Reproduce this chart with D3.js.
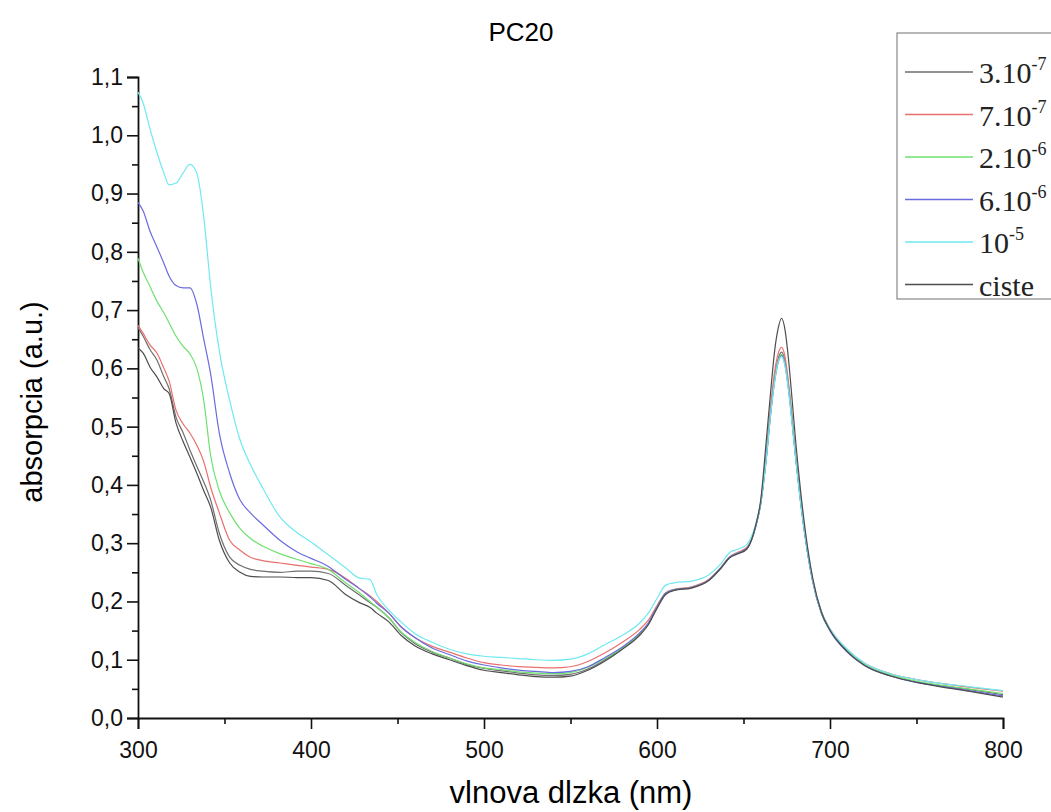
<!DOCTYPE html>
<html>
<head>
<meta charset="utf-8">
<script src="https://cdn.jsdelivr.net/npm/d3@7"></script>
<style>
  body { margin: 0; background: #fff; }
  .tick text { font-family: Arial, "Liberation Sans", sans-serif; font-size: 23px; fill: #111; }
</style>
</head>
<body>
<div id="chart"></div>
<script>
var width = 1051;
var height = 812;
var margin = {top: 77, left: 138, right: 48, bottom: 94};

// wavelengths (nm), shared by every series
var wavelengths = [300,303,307,311,315,318,322,326,330,334,338,342,347,353,359,365,372,382,392,400,
  410,420,428,434,438,445,452,460,470,480,490,500,510,520,530,540,550,560,570,580,
  590,595,600,605,610,620,630,637,642,647,652,657,660,663,666,668,670,672,674,676,
  678,680,683,686,690,695,700,710,720,735,750,765,780,800];

var s3e7 = [0.670,0.655,0.632,0.614,0.585,0.565,0.516,0.490,0.460,0.432,0.405,0.374,0.317,0.276,0.262,0.255,0.252,0.250,0.252,0.252,
  0.248,0.228,0.211,0.198,0.190,0.172,0.147,0.128,0.113,0.103,0.092,0.085,0.081,0.077,0.074,0.073,0.075,0.084,0.100,0.120,
  0.145,0.162,0.190,0.214,0.220,0.224,0.237,0.258,0.276,0.283,0.291,0.328,0.370,0.444,0.536,0.585,0.616,0.628,0.612,0.570,
  0.515,0.453,0.373,0.305,0.235,0.180,0.150,0.114,0.091,0.073,0.062,0.055,0.049,0.040];

var s7e7 = [0.674,0.660,0.640,0.626,0.600,0.578,0.528,0.505,0.489,0.468,0.440,0.396,0.352,0.305,0.288,0.276,0.270,0.266,0.262,0.259,
  0.255,0.240,0.222,0.210,0.200,0.180,0.156,0.138,0.123,0.113,0.103,0.095,0.091,0.088,0.087,0.086,0.088,0.097,0.112,0.130,
  0.152,0.168,0.193,0.215,0.221,0.225,0.238,0.259,0.277,0.285,0.293,0.330,0.372,0.450,0.545,0.595,0.625,0.636,0.620,0.576,
  0.520,0.456,0.376,0.308,0.238,0.183,0.153,0.117,0.094,0.076,0.066,0.059,0.053,0.046];

var s2e6 = [0.789,0.765,0.740,0.715,0.695,0.678,0.655,0.638,0.625,0.600,0.545,0.450,0.390,0.352,0.325,0.308,0.295,0.282,0.272,0.265,
  0.255,0.232,0.215,0.200,0.190,0.172,0.148,0.130,0.114,0.103,0.093,0.086,0.083,0.079,0.077,0.076,0.078,0.087,0.102,0.120,
  0.145,0.162,0.190,0.214,0.220,0.224,0.237,0.258,0.276,0.283,0.291,0.328,0.368,0.440,0.532,0.580,0.612,0.624,0.608,0.567,
  0.512,0.452,0.372,0.305,0.236,0.181,0.151,0.115,0.092,0.074,0.063,0.056,0.050,0.042];

var s6e6 = [0.885,0.870,0.835,0.808,0.780,0.758,0.742,0.738,0.738,0.710,0.650,0.590,0.489,0.420,0.374,0.352,0.332,0.305,0.285,0.274,
  0.260,0.238,0.222,0.208,0.197,0.180,0.157,0.138,0.120,0.109,0.098,0.091,0.086,0.082,0.080,0.078,0.080,0.088,0.104,0.122,
  0.146,0.163,0.190,0.214,0.220,0.224,0.237,0.258,0.276,0.283,0.291,0.328,0.368,0.440,0.530,0.578,0.610,0.622,0.606,0.565,
  0.510,0.450,0.370,0.303,0.234,0.180,0.150,0.113,0.090,0.072,0.061,0.054,0.047,0.038];

var s1e5 = [1.074,1.055,1.010,0.970,0.935,0.915,0.918,0.935,0.950,0.935,0.860,0.740,0.630,0.545,0.477,0.435,0.395,0.345,0.318,0.302,
  0.280,0.258,0.240,0.238,0.212,0.185,0.165,0.145,0.130,0.118,0.110,0.106,0.104,0.102,0.100,0.099,0.101,0.110,0.126,0.142,
  0.163,0.180,0.205,0.228,0.232,0.235,0.246,0.265,0.284,0.290,0.298,0.332,0.370,0.440,0.530,0.578,0.610,0.620,0.604,0.563,
  0.508,0.450,0.370,0.305,0.236,0.182,0.153,0.118,0.094,0.076,0.066,0.059,0.054,0.047];

var ciste = [0.635,0.626,0.602,0.585,0.565,0.557,0.506,0.475,0.448,0.420,0.390,0.362,0.305,0.266,0.250,0.243,0.242,0.242,0.241,0.241,
  0.236,0.212,0.198,0.190,0.180,0.165,0.142,0.124,0.110,0.100,0.090,0.082,0.078,0.074,0.071,0.070,0.072,0.082,0.098,0.118,
  0.142,0.160,0.188,0.212,0.219,0.223,0.236,0.257,0.275,0.282,0.290,0.330,0.375,0.470,0.570,0.630,0.668,0.686,0.666,0.616,
  0.550,0.480,0.390,0.315,0.240,0.182,0.151,0.114,0.090,0.072,0.061,0.053,0.046,0.036];

var seriesNames = [["3.10", "-7"], ["7.10", "-7"], ["2.10", "-6"], ["6.10", "-6"], ["10", "-5"], ["ciste", ""]];
var seriesValues = [s3e7, s7e7, s2e6, s6e6, s1e5, ciste];
var seriesColors = ["#6f6f6f", "#e8706e", "#6fe06f", "#6b6be0", "#6fe9f0", "#4d4d4d"];

var svg = d3.select("#chart")
  .append("svg")
  .attr("width", width)
  .attr("height", height);

var xScale = d3.scaleLinear()
  .domain([300, 800])
  .range([margin.left, width - margin.right]);
var yScale = d3.scaleLinear()
  .domain([0, 1.1])
  .range([height - margin.bottom, margin.top]);

var commaFmt = function(d) { return d3.format(".1f")(d).replace(".", ","); };

// minor ticks first, then major ticks with labels
svg.append("g")
  .attr("transform", `translate(0, ${height - margin.bottom})`)
  .call(d3.axisBottom(xScale).tickValues(d3.range(350, 800, 100)).tickSize(6).tickFormat(""))
  .call(g => g.select(".domain").remove());
var xAxis = svg.append("g")
  .attr("transform", `translate(0, ${height - margin.bottom})`)
  .call(d3.axisBottom(xScale).tickValues(d3.range(300, 801, 100)).tickSize(11).tickPadding(13).tickFormat(d3.format("d")));

svg.append("g")
  .attr("transform", `translate(${margin.left},0)`)
  .call(d3.axisLeft(yScale).tickValues(d3.range(0.05, 1.1, 0.1)).tickSize(6).tickFormat(""))
  .call(g => g.select(".domain").remove());
var yAxis = svg.append("g")
  .attr("transform", `translate(${margin.left},0)`)
  .call(d3.axisLeft(yScale).tickValues(d3.range(0, 1.101, 0.1)).tickSize(11).tickPadding(4).tickFormat(commaFmt));

svg.selectAll(".domain").attr("stroke", "#111").attr("stroke-width", 1.8);
svg.selectAll(".tick line").attr("stroke", "#111").attr("stroke-width", 1.6);

var line = d3.line()
  .x(function(d, i) { return xScale(wavelengths[i]); })
  .y(function(d) { return yScale(d); })
  .curve(d3.curveMonotoneX);

svg.selectAll("path.spectrum")
  .data(seriesValues)
  .enter()
  .append("path")
    .attr("class", "spectrum")
    .attr("d", line)
    .attr("fill", "none")
    .attr("stroke", function(d, i) { return seriesColors[i]; })
    .attr("stroke-width", 1.2);

// title and axis labels
svg.append("text")
  .attr("x", 521)
  .attr("y", 41)
  .attr("text-anchor", "middle")
  .style("font-family", "Arial, 'Liberation Sans', sans-serif")
  .style("font-size", "26px")
  .text("PC20");

svg.append("text")
  .attr("x", 571)
  .attr("y", 803)
  .attr("text-anchor", "middle")
  .style("font-family", "Arial, 'Liberation Sans', sans-serif")
  .style("font-size", "31px")
  .text("vlnova dlzka (nm)");

svg.append("text")
  .attr("transform", "rotate(-90)")
  .attr("x", -402)
  .attr("y", 42)
  .attr("text-anchor", "middle")
  .style("font-family", "Arial, 'Liberation Sans', sans-serif")
  .style("font-size", "29px")
  .text("absorpcia (a.u.)");

// legend
var legend = svg.append("g");
legend.append("rect")
  .attr("x", 897)
  .attr("y", 33)
  .attr("width", 170)
  .attr("height", 266)
  .attr("fill", "#fff")
  .attr("stroke", "#888")
  .attr("stroke-width", 1.2);

var item = legend.selectAll("g.item")
  .data(seriesNames)
  .enter()
  .append("g")
    .attr("class", "item")
    .attr("transform", function(d, i) { return `translate(0, ${72 + i * 42.5})`; });

item.append("line")
  .attr("x1", 905)
  .attr("x2", 973)
  .attr("stroke", function(d, i) { return seriesColors[i]; })
  .attr("stroke-width", 1.5);

var label = item.append("text")
  .attr("x", 979)
  .attr("y", 11)
  .style("font-family", "'Liberation Serif', 'Times New Roman', serif")
  .style("font-size", "30px")
  .style("fill", "#222");
label.append("tspan").text(function(d) { return d[0]; });
label.append("tspan")
  .attr("dy", -13)
  .style("font-size", "18px")
  .text(function(d) { return d[1]; });
</script>
</body>
</html>
